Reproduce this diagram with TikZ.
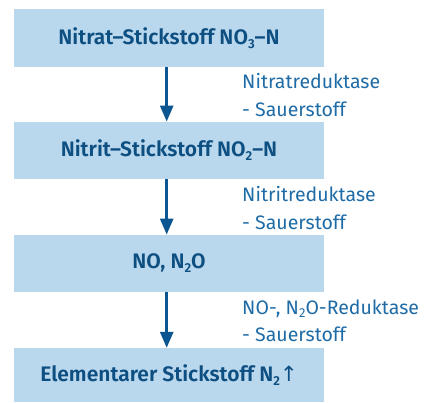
\documentclass[tikz,border=0pt]{standalone}
\usepackage{fontspec}
\setmainfont{Fira Sans}[BoldFont={Fira Sans SemiBold}]
\newfontfamily\symfont{DejaVu Sans}
\usetikzlibrary{arrows.meta}
\definecolor{boxfill}{HTML}{B9D7ED}
\definecolor{boxtext}{HTML}{0E4F82}
\definecolor{labtext}{HTML}{1E6BA6}
\definecolor{arrowc}{HTML}{0B5591}
\newcommand{\mysub}[1]{\raisebox{-0.35ex}{\fontsize{13}{13}\selectfont #1}}
\newcommand{\mylsub}[1]{\raisebox{-0.35ex}{\fontsize{13}{13}\selectfont #1}}
\begin{document}
\begin{tikzpicture}[x=1pt,y=1pt,
  box/.style={fill=boxfill, minimum width=310pt, minimum height=57.5pt, inner sep=0pt,
    text=boxtext, font=\fontsize{21}{22}\selectfont\bfseries},
  lab/.style={anchor=north west, align=left, text=labtext, inner sep=0pt,
    font=\fontsize{19.5}{27.5}\selectfont},
  flow/.style={draw=arrowc, line width=2.7pt, -{Triangle[width=13pt,length=16pt]}}]
\useasboundingbox (0,0) rectangle (430,-402);
\node[box] (b1) at (169,-37.8) {Nitrat–Stickstoff NO\mysub{3}–N};
\node[box] (b2) at (169,-150.5) {Nitrit–Stickstoff NO\mysub{2}–N};
\node[box] (b3) at (169,-263.5) {NO, N\mysub{2}O};
\node[box, minimum height=54pt] (b4) at (169,-375) {Elementarer Stickstoff N\mysub{2}{\symfont\fontseries{m}\selectfont ↑}};
\draw[flow] (b1.south -| 166.7,0) -- (b2.north -| 166.7,0);
\draw[flow] (b2.south -| 166.7,0) -- (b3.north -| 166.7,0);
\draw[flow] (b3.south -| 166.7,0) -- (b4.north -| 166.7,0);
\node[lab] (l1) at (242,-73.5) {Nitratreduktase\\- Sauerstoff};
\node[lab] (l2) at (242,-186.5) {Nitritreduktase\\- Sauerstoff};
\node[lab] (l3) at (242,-299.5) {NO-, N\mylsub{2}O-Reduktase\\- Sauerstoff};
\end{tikzpicture}
\end{document}
